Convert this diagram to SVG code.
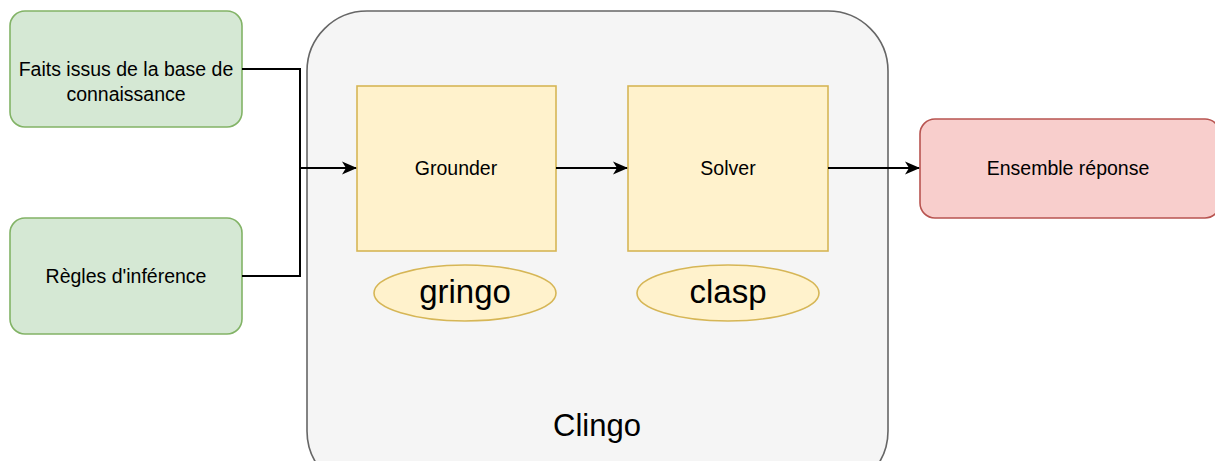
<svg xmlns="http://www.w3.org/2000/svg" width="1215" height="461" viewBox="0 0 1215 461">
<style>
text{font-family:"Liberation Sans",Arial,sans-serif;fill:#000;text-anchor:middle}
.green{fill:#d5e8d4;stroke:#82b366;stroke-width:1.6}
.yellow{fill:#fff2cc;stroke:#d6b656;stroke-width:1.6}
.gray{fill:#f5f5f5;stroke:#666666;stroke-width:1.6}
.red{fill:#f8cecc;stroke:#b85450;stroke-width:1.6}
.lbl{font-size:19.5px}
.big{font-size:33px}
.edge{fill:none;stroke:#000;stroke-width:2}
</style>
<defs>
<marker id="arr" markerUnits="userSpaceOnUse" markerWidth="16" markerHeight="16" refX="14" refY="8" orient="auto">
<path d="M0,1.5 L15,8 L0,14.5 L4,8 Z" fill="#000"/>
</marker>
</defs>
<g id="clingo">
<rect class="gray" x="307" y="11" width="581" height="480" rx="60"/>
<text x="597" y="436" style="font-size:31px">Clingo</text>
</g>
<g id="faits">
<rect class="green" x="10" y="11" width="232" height="116" rx="15"/>
<text class="lbl" x="126" y="76">Faits issus de la base de</text>
<text class="lbl" x="126" y="101">connaissance</text>
</g>
<g id="regles">
<rect class="green" x="10" y="218" width="232" height="116" rx="15"/>
<text class="lbl" x="126" y="283">Règles d'inférence</text>
</g>
<g id="grounder">
<rect class="yellow" x="357" y="86" width="199" height="165"/>
<text class="lbl" x="456" y="175">Grounder</text>
</g>
<g id="solver">
<rect class="yellow" x="628" y="86" width="200" height="165"/>
<text class="lbl" x="728" y="175">Solver</text>
</g>
<g id="gringo">
<ellipse class="yellow" cx="465" cy="293" rx="91" ry="28"/>
<text class="big" x="465" y="303">gringo</text>
</g>
<g id="clasp">
<ellipse class="yellow" cx="728" cy="293" rx="91" ry="28"/>
<text class="big" x="728" y="303">clasp</text>
</g>
<g id="ensemble">
<rect class="red" x="920" y="119" width="300" height="99" rx="15"/>
<text class="lbl" x="1068" y="175">Ensemble réponse</text>
</g>
<g id="connectors">
<path class="edge" d="M242,69 H300 V168 H356" marker-end="url(#arr)"/>
<path class="edge" d="M242,276 H300 V168"/>
<path class="edge" d="M556,168 H627" marker-end="url(#arr)"/>
<path class="edge" d="M828,168 H919" marker-end="url(#arr)"/>
</g>
</svg>
